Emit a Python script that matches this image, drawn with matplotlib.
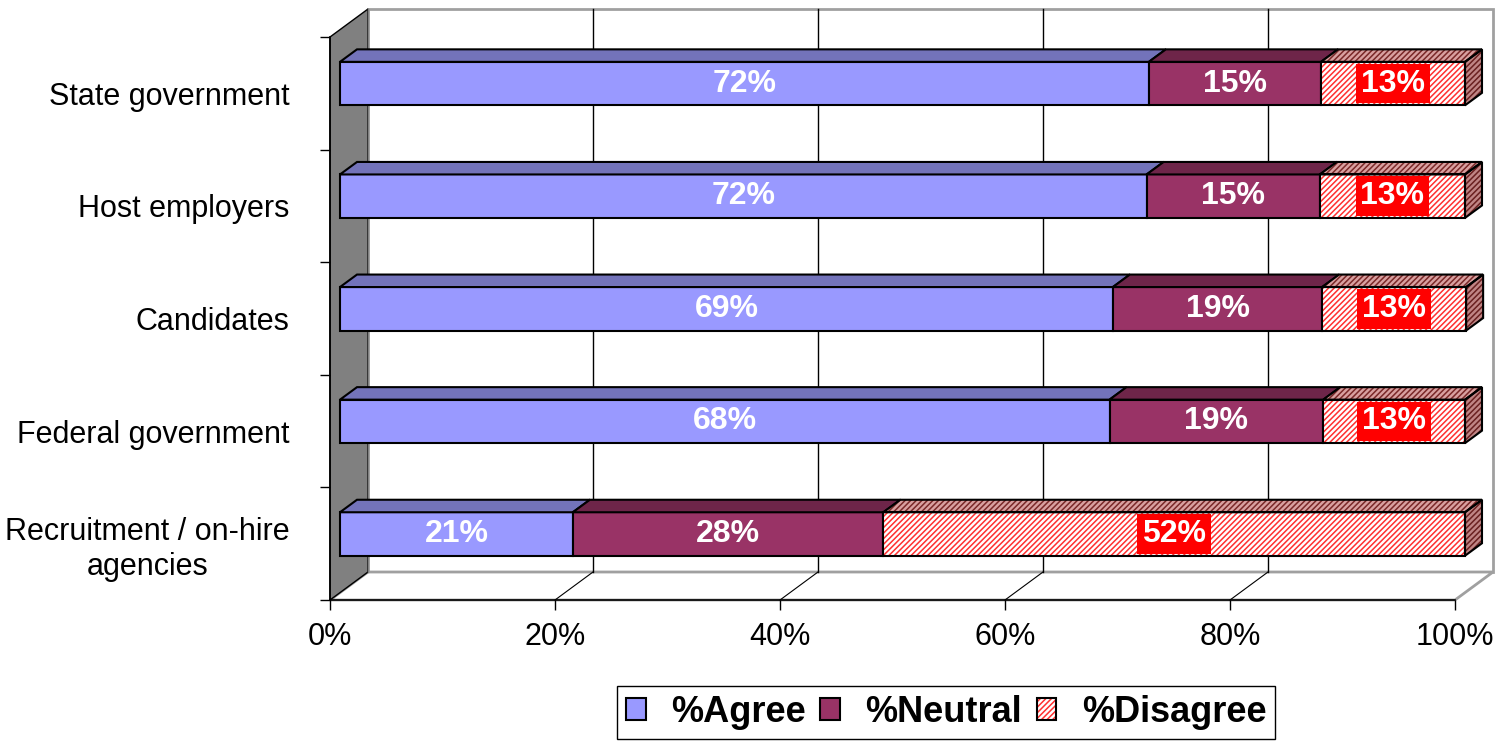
import matplotlib.pyplot as plt
from matplotlib.patches import Polygon, Rectangle, Patch

plt.rcParams['font.family'] = ['Liberation Sans', 'DejaVu Sans']
plt.rcParams['hatch.linewidth'] = 1.1

# data, bottom to top
categories = ['Recruitment / on-hire\nagencies', 'Federal government', 'Candidates',
              'Host employers', 'State government']
agree = [20.7, 68.4, 68.7, 71.7, 71.9]
neutral = [27.6, 19.0, 18.6, 15.4, 15.3]
disagree = [51.7, 12.6, 12.8, 12.9, 12.8]
series_names = ['%Agree', '%Neutral', '%Disagree']
xticks = [0, 20, 40, 60, 80, 100]

W, H = 1505, 741
fig = plt.figure(figsize=(W / 100, H / 100), dpi=100)
ax = fig.add_axes([330 / W, (H - 600) / H, 1125 / W, 563 / H])
ax.set_xlim(0, 100)
ax.set_ylim(-0.5, 4.5)
ax.patch.set_visible(False)

# pixel -> data scale for the fake 3d depth
XPX = 1125 / 100
YPX = 563 / 5
DX, DY = 38 / XPX, 28 / YPX          # wall depth
BX, BY = 10 / XPX, 9.7 / YPX         # bar front offset
BDX, BDY = 17 / XPX, 12.5 / YPX      # bar depth
BH = 43.5 / YPX
HATCH = '//////'


def poly(pts, **kw):
    p = Polygon(pts, clip_on=False, **kw)
    ax.add_patch(p)
    return p


def bar(y, v, left, **kw):
    for b in ax.barh(y, v, left=left, height=BH, **kw):
        b.set_clip_on(False)


# walls and floor
poly([(0, -0.5), (DX, -0.5 + DY), (DX, 4.5 + DY), (0, 4.5)],
     facecolor='#808080', edgecolor='black', lw=1, zorder=1)
ax.add_patch(Rectangle((DX, -0.5 + DY), 100, 5, facecolor='white',
                       edgecolor='#A0A0A0', lw=2, clip_on=False, zorder=0.9))
poly([(0, -0.5), (100, -0.5), (100 + DX, -0.5 + DY), (DX, -0.5 + DY)],
     facecolor='white', edgecolor='#A0A0A0', lw=2, zorder=0.9)
ax.plot([DX, DX], [-0.5 + DY, 4.5 + DY], color='#808080', lw=1,
        clip_on=False, zorder=1)
for v in xticks[1:-1]:
    ax.plot([v + DX, v + DX], [-0.5 + DY, 4.5 + DY], color='black', lw=1,
            clip_on=False, zorder=1.2)
    ax.plot([v, v + DX], [-0.5, -0.5 + DY], color='black', lw=0.8,
            clip_on=False, zorder=1.2)

front = ['#9999FF', '#993366', '#FFFFFF']
top = ['#7373BA', '#6E2549', '#D9A0A0']
side = ['#5C5C99', '#5A1E3C', '#C08585']

for i, vals in enumerate(zip(agree, neutral, disagree)):
    y = i + BY
    left = BX
    for k, v in enumerate(vals):
        yt = y + BH / 2
        tp = [(left, yt), (left + v, yt), (left + v + BDX, yt + BDY), (left + BDX, yt + BDY)]
        if k == 2:
            bar(y, v, left, color=front[k], edgecolor='#FF3030', hatch=HATCH, lw=0, zorder=3)
            bar(y, v, left, fill=False, edgecolor='black', lw=1.5, zorder=3.1)
            poly(tp, facecolor=top[k], edgecolor='#7A2828', hatch=HATCH, lw=0, zorder=3)
            poly(tp, fill=False, edgecolor='black', lw=1.5, zorder=3.1)
        else:
            bar(y, v, left, color=front[k], edgecolor='black', lw=1.5, zorder=3)
            poly(tp, facecolor=top[k], edgecolor='black', lw=1.5, zorder=3)
        txt = ax.text(left + v / 2, y, f'{round(v)}%', ha='center', va='center',
                      color='white', fontsize=23, fontweight='bold', zorder=5)
        if k == 2:
            txt.set_bbox(dict(facecolor='#FF0000', edgecolor='none',
                              boxstyle='square,pad=0.15'))
        left += v
    sp = [(left, y - BH / 2), (left + BDX, y - BH / 2 + BDY),
          (left + BDX, y + BH / 2 + BDY), (left, y + BH / 2)]
    poly(sp, facecolor=side[2], edgecolor='#6A2020', hatch=HATCH, lw=0, zorder=3)
    poly(sp, fill=False, edgecolor='black', lw=1.5, zorder=3.1)

# axes
for s in ['top', 'right']:
    ax.spines[s].set_visible(False)
for s in ['left', 'bottom']:
    ax.spines[s].set_linewidth(1.2)
    ax.spines[s].set_zorder(2)
ax.set_xticks(xticks)
ax.set_xticklabels([f'{v}%' for v in xticks], fontsize=22)
ax.tick_params(axis='x', length=7, width=1, pad=9)
ax.set_yticks([b - 0.5 for b in range(6)])
ax.set_yticklabels([])
ax.tick_params(axis='y', which='major', length=7, width=1)
ax.set_yticks(range(5), minor=True)
ax.set_yticklabels(categories, minor=True, fontsize=22, multialignment='center')
ax.tick_params(axis='y', which='minor', length=0, pad=29)

# legend
h_agree = Patch(facecolor=front[0], edgecolor='black', lw=1.5)
h_neutral = Patch(facecolor=front[1], edgecolor='black', lw=1.5)
h_dis = (Patch(facecolor=front[2], edgecolor='#FF3030', hatch=HATCH, lw=0),
         Patch(fill=False, edgecolor='black', lw=1.5))
fig.legend([h_agree, h_neutral, h_dis], series_names, loc='upper left',
           bbox_to_anchor=(617 / W, 1 - 686 / H), ncol=3, fancybox=False,
           edgecolor='black', framealpha=1,
           prop={'size': 26, 'weight': 'bold'}, handlelength=0.55,
           handleheight=0.55, handletextpad=0.7, columnspacing=0.4,
           borderpad=0.25, borderaxespad=0)

fig.savefig('out.png', dpi=100)
